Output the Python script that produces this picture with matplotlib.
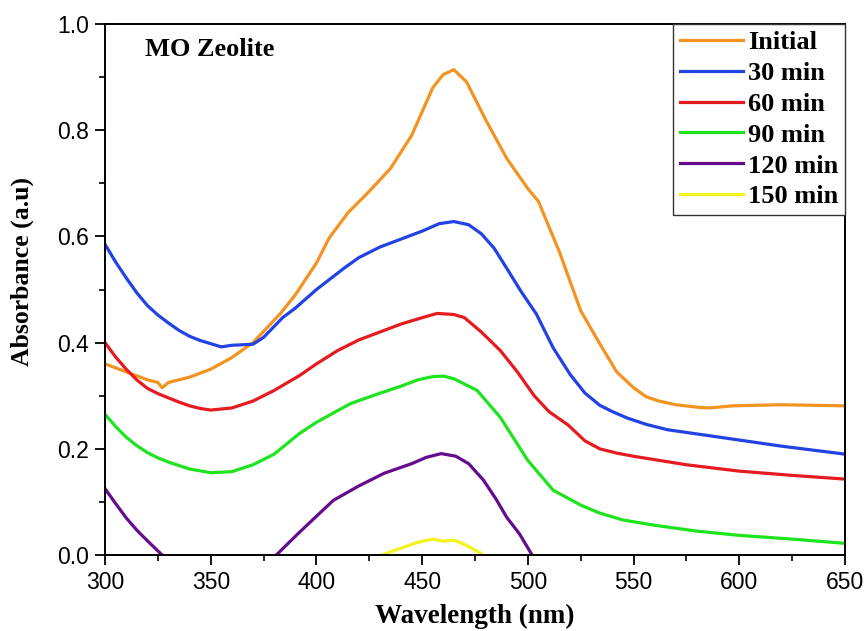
import numpy as np
import matplotlib.pyplot as plt
from matplotlib.ticker import MultipleLocator

# wavelength grids (nm) and absorbance
wl_init = [300, 310, 320, 325, 327, 330, 340, 350, 360, 370, 383, 390, 400, 406, 415, 425, 435, 445,
           450, 455, 460, 465, 471, 480, 490, 500, 505, 515, 525, 534, 542, 550, 556, 562, 570, 581,
           586, 597, 620, 650]
abs_init = [0.36, 0.345, 0.33, 0.325, 0.315, 0.325, 0.335, 0.35, 0.372, 0.40, 0.455, 0.49, 0.55, 0.597,
            0.645, 0.685, 0.728, 0.79, 0.835, 0.88, 0.905, 0.914, 0.891, 0.82, 0.747, 0.69, 0.666,
            0.57, 0.46, 0.398, 0.345, 0.315, 0.298, 0.29, 0.283, 0.278, 0.277, 0.281, 0.283, 0.281]

wl_30 = [300, 305, 310, 315, 320, 325, 330, 335, 340, 345, 350, 355, 360, 370, 375, 384, 390, 400,
         413, 420, 430, 440, 450, 458, 465, 472, 478, 484, 490, 497, 504, 512, 520, 527, 534, 540,
         547, 556, 566, 580, 594, 620, 650]
abs_30 = [0.585, 0.552, 0.522, 0.494, 0.47, 0.452, 0.437, 0.423, 0.412, 0.404, 0.398, 0.392, 0.395,
          0.397, 0.41, 0.447, 0.465, 0.50, 0.54, 0.56, 0.58, 0.595, 0.61, 0.624, 0.628, 0.622, 0.605,
          0.578, 0.54, 0.495, 0.454, 0.39, 0.34, 0.305, 0.282, 0.27, 0.258, 0.246, 0.236, 0.228,
          0.22, 0.205, 0.19]

wl_60 = [300, 305, 310, 315, 320, 325, 330, 335, 340, 345, 350, 355, 360, 370, 380, 392, 400, 410,
         420, 430, 440, 450, 457, 465, 470, 478, 487, 495, 503, 510, 519, 527, 534, 542, 550, 575,
         600, 625, 650]
abs_60 = [0.40, 0.373, 0.35, 0.33, 0.314, 0.304, 0.296, 0.288, 0.281, 0.276, 0.273, 0.275, 0.277,
          0.29, 0.31, 0.338, 0.36, 0.385, 0.405, 0.42, 0.435, 0.447, 0.455, 0.453, 0.447, 0.42, 0.385,
          0.345, 0.30, 0.27, 0.245, 0.215, 0.2, 0.192, 0.186, 0.17, 0.158, 0.15, 0.143]

wl_90 = [300, 305, 310, 315, 320, 325, 330, 340, 350, 360, 370, 380, 392, 400, 416, 428, 440, 448,
         455, 460, 465, 476, 487, 500, 512, 525, 534, 545, 560, 580, 600, 625, 650]
abs_90 = [0.265, 0.242, 0.222, 0.206, 0.193, 0.183, 0.175, 0.162, 0.155, 0.157, 0.17, 0.19, 0.229,
          0.25, 0.285, 0.302, 0.318, 0.33, 0.336, 0.337, 0.332, 0.31, 0.259, 0.178, 0.122, 0.094,
          0.079, 0.066, 0.056, 0.045, 0.037, 0.03, 0.022]

wl_120 = [300, 305, 310, 315, 320, 327, 335, 345, 355, 365, 375, 381, 392, 400, 408, 420, 432, 445,
          452, 459, 466, 472, 479, 485, 490, 496, 502, 510]
abs_120 = [0.125, 0.097, 0.07, 0.047, 0.027, 0.0, -0.03, -0.06, -0.07, -0.055, -0.025, 0.0, 0.043,
           0.073, 0.103, 0.13, 0.154, 0.172, 0.184, 0.191, 0.186, 0.172, 0.141, 0.105, 0.071, 0.04,
           0.0, -0.05]

wl_150 = [425, 431, 440, 448, 455, 460, 465, 470, 477, 482]
abs_150 = [-0.01, 0.0, 0.013, 0.024, 0.03, 0.026, 0.028, 0.02, 0.005, -0.01]

labels = ["Initial", "30 min", "60 min", "90 min", "120 min", "150 min"]
colors = ["#F39322", "#2242E4", "#E51B1F", "#1EE41E", "#650C8E", "#F2F21C"]

plt.rcParams['font.family'] = 'Liberation Sans'
fig = plt.figure(figsize=(8.68, 6.31), dpi=100)
ax = fig.add_axes([0.121, 0.1204, 0.8525, 0.8415])

series = [(wl_init, abs_init), (wl_30, abs_30), (wl_60, abs_60),
          (wl_90, abs_90), (wl_120, abs_120), (wl_150, abs_150)]
for (x, y), lab, c in zip(series, labels, colors):
    ax.plot(x, y, color=c, lw=2.3, label=lab)

ax.set_xlim(300, 650)
ax.set_ylim(0, 1.0)
ax.xaxis.set_major_locator(MultipleLocator(50))
ax.xaxis.set_minor_locator(MultipleLocator(25))
ax.yaxis.set_major_locator(MultipleLocator(0.2))
ax.yaxis.set_minor_locator(MultipleLocator(0.1))
ax.tick_params(which='major', direction='out', length=7, width=1.3, labelsize=16.5, pad=4.5)
ax.tick_params(which='minor', direction='out', length=4, width=1.2)
for s in ax.spines.values():
    s.set_linewidth(1.4)

serif = 'Liberation Serif'
ax.set_xlabel("Wavelength (nm)", fontfamily=serif, fontweight='bold', fontsize=19.5)
ax.xaxis.set_label_coords(0.5, -0.092)
ax.set_ylabel("Absorbance (a.u)", fontfamily=serif, fontweight='bold', fontsize=18.5)
ax.yaxis.set_label_coords(-0.096, 0.534)
ax.text(319, 0.952, "MO Zeolite", fontfamily=serif, fontweight='bold', fontsize=19, va='center')

leg = ax.legend(loc='upper right', borderaxespad=0, fancybox=False, edgecolor='#333333',
                framealpha=1, prop={'family': serif, 'weight': 'bold', 'size': 19},
                handlelength=2.4, handletextpad=0.2, labelspacing=0.28, borderpad=0.25)
leg.get_frame().set_linewidth(1.0)

fig.savefig("out.png", dpi=100)
